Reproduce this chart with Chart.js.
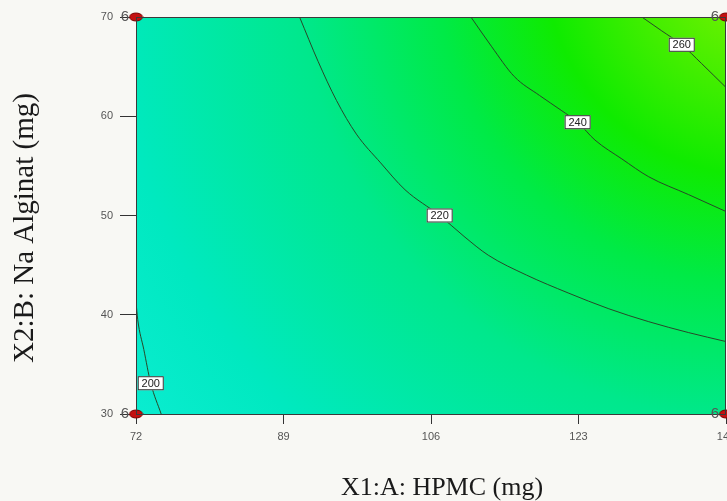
<!DOCTYPE html>
<html>
<head>
<meta charset="utf-8">
<script src="https://cdn.jsdelivr.net/npm/chart.js@4/dist/chart.umd.min.js"></script>
<style>
    body { margin: 0; background: #f8f8f4; }
    canvas { display: block; }
</style>
</head>
<body>
<canvas id="chart1" width="727" height="501"></canvas>
<script>
// axis ticks
const xTicks = [72, 89, 106, 123, 140];
const yTicks = [30, 40, 50, 60, 70];

// contour lines (X1: HPMC, X2: Na Alginat)
const contourLevels = [200, 220, 240, 260];
const c200x = [72.0, 72.2, 72.9, 73.7, 74.9];
const c200y = [41.3, 39.5, 36.5, 33.1, 30.0];
const c220x = [90.85, 93.0, 95.1, 97.4, 100.2, 103.0, 107.0, 109.8, 112.6, 117.0, 121.8, 126.5, 131.1, 135.7, 140.0];
const c220y = [70.0, 65.5, 61.6, 58.2, 55.3, 52.6, 50.0, 47.9, 46.0, 44.0, 42.2, 40.6, 39.3, 38.2, 37.3];
const c240x = [110.6, 113.0, 115.6, 118.5, 121.0, 122.9, 124.9, 128.0, 131.1, 135.7, 140.0];
const c240y = [70.0, 67.0, 64.0, 62.1, 60.6, 59.4, 57.6, 55.7, 53.9, 52.1, 50.4];
const c260x = [130.3, 132.6, 134.9, 137.2, 140.0];
const c260y = [70.0, 68.6, 67.2, 65.3, 62.9];
// which point of each contour carries its label
const labelIndex = [3, 6, 5, 2];

// design points (corners) and replicate counts
const designX = [72, 72, 140, 140];
const designY = [30, 70, 30, 70];
const designN = [6, 6, 6, 6];

function pts(xs, ys) {
    return xs.map((x, i) => ({ x: x, y: ys[i] }));
}

const contourData = [pts(c200x, c200y), pts(c220x, c220y), pts(c240x, c240y), pts(c260x, c260y)];

// red ellipse marker like the original
const dot = document.createElement("canvas");
dot.width = 15; dot.height = 10;
const dctx = dot.getContext("2d");
dctx.beginPath();
dctx.ellipse(7.5, 5, 6.5, 4, 0, 0, Math.PI * 2);
dctx.fillStyle = "#c41010";
dctx.fill();
dctx.strokeStyle = "#7a0000";
dctx.lineWidth = 1;
dctx.stroke();

const surfaceBg = {
    id: "surfaceBg",
    beforeDatasetsDraw(chart) {
        const { ctx, chartArea: a } = chart;
        const cx = a.right + 34, cy = a.top - 57;
        const g = ctx.createRadialGradient(cx, cy, 0, cx, cy, 770);
        g.addColorStop(0.0, "rgb(150,245,0)");
        g.addColorStop(0.1, "rgb(95,240,0)");
        g.addColorStop(0.28, "rgb(15,235,0)");
        g.addColorStop(0.42, "rgb(0,234,70)");
        g.addColorStop(0.6, "rgb(0,232,140)");
        g.addColorStop(0.85, "rgb(0,233,192)");
        g.addColorStop(1.0, "rgb(10,236,208)");
        ctx.save();
        ctx.fillStyle = g;
        ctx.fillRect(a.left, a.top, a.right - a.left, a.bottom - a.top);
        ctx.restore();
    },
    afterDatasetsDraw(chart) {
        const { ctx, chartArea: a } = chart;
        ctx.save();
        ctx.strokeStyle = "#3a3a3a";
        ctx.lineWidth = 1;
        ctx.strokeRect(a.left + 0.5, a.top + 0.5, a.right - a.left - 1, a.bottom - a.top);

        // contour labels
        ctx.font = "11px 'Liberation Sans', Arial, sans-serif";
        ctx.textAlign = "center";
        ctx.textBaseline = "middle";
        contourLevels.forEach((lvl, i) => {
            const p = chart.getDatasetMeta(i).data[labelIndex[i]];
            ctx.fillStyle = "#ffffff";
            ctx.fillRect(p.x - 13, p.y - 7, 26, 14);
            ctx.strokeStyle = "#333";
            ctx.strokeRect(p.x - 12.5, p.y - 6.5, 25, 13);
            ctx.fillStyle = "#222";
            ctx.fillText(String(lvl), p.x, p.y + 0.5);
        });

        // replicate counts beside design points
        const dm = chart.getDatasetMeta(contourLevels.length);
        ctx.font = "15px 'Liberation Sans', Arial, sans-serif";
        ctx.textAlign = "right";
        ctx.fillStyle = "#555";
        dm.data.forEach((p, i) => {
            ctx.fillText(String(designN[i]), p.x - 7, p.y);
        });

        // axis titles
        ctx.fillStyle = "#1a1a1a";
        ctx.textAlign = "center";
        ctx.textBaseline = "alphabetic";
        ctx.font = "26px 'Liberation Serif', 'Times New Roman', serif";
        ctx.fillText("X1:A: HPMC (mg)", 442, 495);
        ctx.translate(33, 228);
        ctx.rotate(-Math.PI / 2);
        ctx.font = "29px 'Liberation Serif', 'Times New Roman', serif";
        ctx.fillText("X2:B: Na Alginat (mg)", 0, 0);
        ctx.restore();
    }
};

const datasets = contourData.map((d, i) => ({
    label: String(contourLevels[i]),
    data: d,
    showLine: true,
    borderColor: "#284828",
    borderWidth: 1,
    pointRadius: 0,
    cubicInterpolationMode: "monotone"
}));
datasets.push({
    label: "design",
    data: pts(designX, designY),
    showLine: false,
    pointStyle: dot,
    pointRadius: 6,
    clip: false
});

new Chart(document.getElementById("chart1"), {
    type: "scatter",
    data: { datasets: datasets },
    options: {
        responsive: false,
        animation: false,
        devicePixelRatio: 1,
        layout: { autoPadding: false, padding: { top: 17, right: 1, left: 0, bottom: 0 } },
        plugins: { legend: { display: false }, tooltip: { enabled: false } },
        scales: {
            x: {
                type: "linear",
                min: xTicks[0],
                max: xTicks[xTicks.length - 1],
                afterBuildTicks: s => { s.ticks = xTicks.map(v => ({ value: v })); },
                afterFit: s => { s.height = 87; s.paddingLeft = 0; s.paddingRight = 0; },
                grid: { drawOnChartArea: false, tickLength: 10, color: "#333" },
                border: { display: false },
                ticks: { padding: 6, color: "#555", font: { family: "'Liberation Sans', Arial", size: 11 } }
            },
            y: {
                type: "linear",
                min: yTicks[0],
                max: yTicks[yTicks.length - 1],
                afterBuildTicks: s => { s.ticks = yTicks.map(v => ({ value: v })); },
                afterFit: s => { s.width = 136; s.paddingTop = 0; s.paddingBottom = 0; },
                grid: { drawOnChartArea: false, tickLength: 16, color: "#333" },
                border: { display: false },
                ticks: { padding: 7, color: "#555", font: { family: "'Liberation Sans', Arial", size: 11 } }
            }
        }
    },
    plugins: [surfaceBg]
});
</script>
</body>
</html>
